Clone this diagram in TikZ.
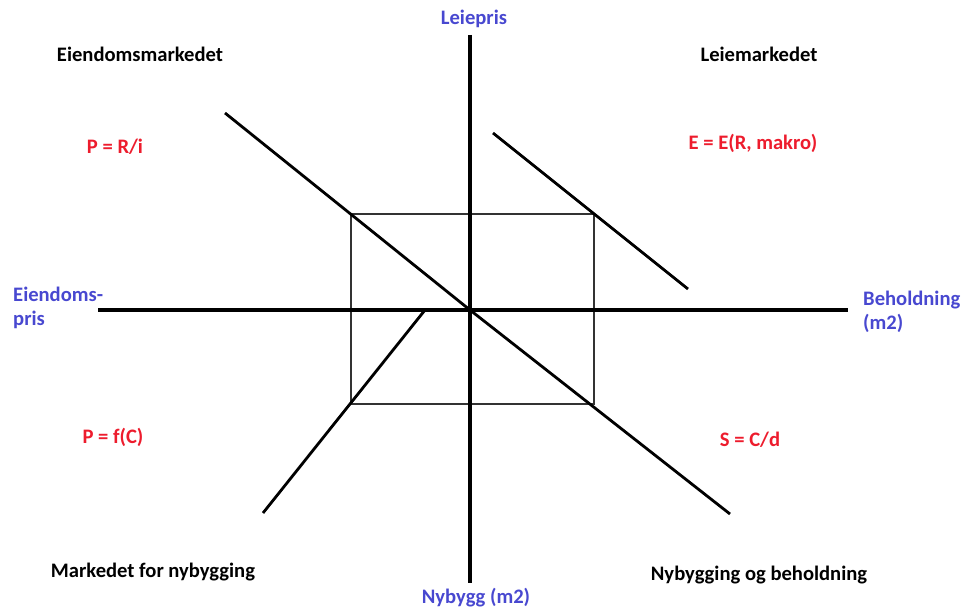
\documentclass[tikz,border=0pt]{standalone}
\usepackage{fontspec}
\setmainfont{Carlito}
\definecolor{eqred}{RGB}{237,28,45}
\definecolor{axblue}{RGB}{72,72,208}
\begin{document}
\begin{tikzpicture}[x=1pt,y=-1pt,
  lbl/.style={font=\fontsize{20.6}{24}\selectfont\bfseries, inner sep=0pt},
  title/.style={lbl, text=black},
  eq/.style={lbl, text=eqred},
  axl/.style={lbl, text=axblue, align=left},
  axis/.style={line width=3.2pt, black},
  curve/.style={line width=2.8pt, black},
  box/.style={line width=1.3pt, black!80}]
\useasboundingbox (0,0) rectangle (962,610);
% coordinates
\coordinate (O) at (470,310);
\coordinate (vT) at (470,35);
\coordinate (vB) at (470,583);
\coordinate (hL) at (98,310);
\coordinate (hR) at (848,310);
\coordinate (r1) at (351,214);
\coordinate (r2) at (594,214);
\coordinate (r3) at (594,404);
\coordinate (r4) at (351,404);
\coordinate (a1) at (225,113);
\coordinate (a2) at (730,514);
\coordinate (b1) at (493,133);
\coordinate (b2) at (688,289);
\coordinate (c1) at (425,310);
\coordinate (c2) at (263,513);
% rectangle
\draw[box] (r1) -- (r2) -- (r3) -- (r4) -- cycle;
% axes
\draw[axis] (vT) -- (vB);
\draw[axis] (hL) -- (hR);
% curves
\draw[curve] (a1) -- (O) -- (a2);
\draw[curve] (b1) -- (b2);
\draw[curve] (c1) -- (c2);
% labels
\node[title] (t1) at (140,54) {Eiendomsmarkedet};
\node[title] (t2) at (759,54) {Leiemarkedet};
\node[title] (t3) at (153,572) {Markedet for nybygging};
\node[title] (t4) at (759,575) {Nybygging og beholdning};
\node[eq] (e1) at (115,147) {P = R/i};
\node[eq] (e2) at (753,143) {E = E(R, makro)};
\node[eq] (e3) at (113,437) {P = f(C)};
\node[eq] (e4) at (750,440) {S = C/d};
\node[axl] (l1) at (474,19) {Leiepris};
\node[axl] (l2) at (476,598) {Nybygg (m2)};
\node[axl, anchor=west] (l3) at (13,308) {Eiendoms-\\pris};
\node[axl, anchor=west] (l4) at (863,312) {Beholdning\\(m2)};
\end{tikzpicture}
\end{document}
